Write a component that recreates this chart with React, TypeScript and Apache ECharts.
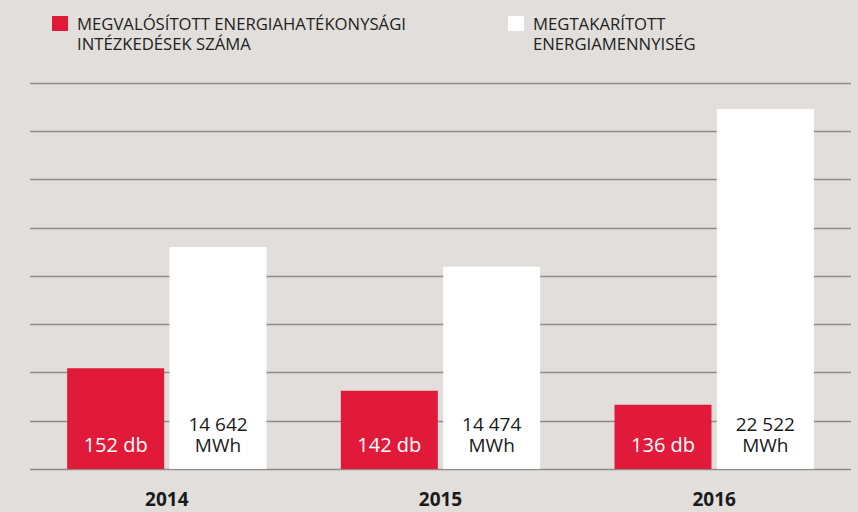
import React, { useEffect, useRef } from "react";
import * as echarts from "echarts";

// Categories
const years = ["2014", "2015", "2016"];
// Series names (legend)
const seriesNames = [
  "MEGVALÓSÍTOTT ENERGIAHATÉKONYSÁGI\nINTÉZKEDÉSEK SZÁMA",
  "MEGTAKARÍTOTT\nENERGIAMENNYISÉG",
];
// Printed values
const measuresCount = [152, 142, 136]; // db
const savedEnergy = [14642, 14474, 22522]; // MWh
// Bar heights as drawn in the picture (in gridline units, the chart is not to scale)
const measuresHeight = [2.09, 1.62, 1.33];
const savedHeight = [4.6, 4.19, 7.46];

const RED = "#e21a3a";
const BG = "#e1dedb";
const GRID = "#8f8b88";
const FONT = "'Open Sans', sans-serif";

const fmtThousands = (v: number) =>
  String(v).replace(/\B(?=(\d{3})+(?!\d))/g, " ");

export default function App() {
  const ref = useRef<HTMLDivElement>(null);
  useEffect(() => {
    if (!ref.current) return;
    const chart = echarts.init(ref.current, null, { renderer: "svg" });
    const legendX = [52, 508];
    const legendColors = [RED, "#ffffff"];
    const graphic: any[] = [];
    seriesNames.forEach((name, i) => {
      graphic.push({
        type: "rect",
        left: legendX[i],
        top: 16,
        shape: { width: 16, height: 15 },
        style: { fill: legendColors[i] },
      });
      graphic.push({
        type: "text",
        left: legendX[i] + 25,
        top: 13,
        style: {
          text: name,
          font: `16.7px ${FONT}`,
          lineHeight: 20,
          fill: "#222222",
        },
      });
    });
    chart.setOption({
      animation: false,
      backgroundColor: BG,
      textStyle: { fontFamily: FONT },
      grid: { left: 30, right: 7, top: 83, bottom: 43 },
      graphic,
      xAxis: {
        type: "category",
        data: years,
        axisLine: { show: false },
        axisTick: { show: false },
        axisLabel: {
          fontFamily: FONT,
          fontWeight: "bold",
          fontSize: 19,
          color: "#1a1a1a",
          margin: 20,
        },
      },
      yAxis: {
        type: "value",
        min: 0,
        max: 8,
        interval: 1,
        axisLabel: { show: false },
        axisLine: { show: false },
        axisTick: { show: false },
        splitLine: { lineStyle: { color: GRID, width: 1.3 } },
      },
      series: [
        {
          name: seriesNames[0],
          type: "bar",
          data: measuresHeight,
          barWidth: 97,
          barGap: "5.5%",
          itemStyle: { color: RED },
          label: {
            show: true,
            position: "insideBottom",
            distance: 15,
            color: "#ffffff",
            fontFamily: FONT,
            fontSize: 20,
            lineHeight: 20,
            formatter: (p: any) => `${measuresCount[p.dataIndex]} db`,
          },
        },
        {
          name: seriesNames[1],
          type: "bar",
          data: savedHeight,
          barWidth: 97,
          itemStyle: { color: "#ffffff" },
          label: {
            show: true,
            position: "insideBottom",
            distance: 14,
            color: "#1a1a1a",
            fontFamily: FONT,
            fontSize: 19,
            lineHeight: 21,
            formatter: (p: any) =>
              `${fmtThousands(savedEnergy[p.dataIndex])}\nMWh`,
          },
        },
      ],
    });
    return () => chart.dispose();
  }, []);
  return (
    <div
      ref={ref}
      style={{ position: "fixed", left: 0, top: 0, width: 858, height: 512 }}
    />
  );
}
